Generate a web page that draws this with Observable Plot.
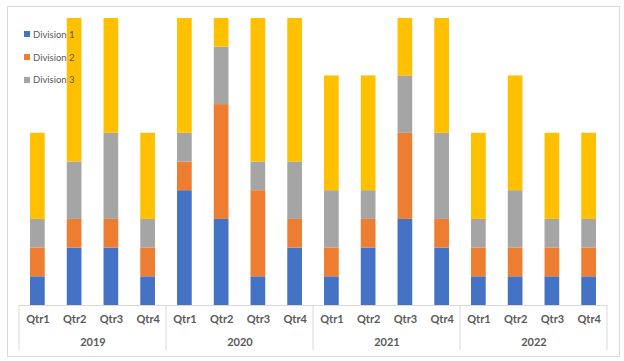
<!DOCTYPE html>
<html>
<head>
<meta charset="utf-8">
<script src="https://cdn.jsdelivr.net/npm/d3@7"></script>
<script src="https://cdn.jsdelivr.net/npm/@observablehq/plot@0.6"></script>
<style>
  html, body { margin: 0; padding: 0; background: #fff; }
  #wrap { position: relative; width: 624px; height: 361px; font-family: Lato, "Open Sans", sans-serif; }
  #border { position: absolute; left: 7px; top: 6px; width: 611px; height: 349px; border: 1px solid #d9d9d9; pointer-events: none; }
  #chart { position: absolute; left: 0; top: 0; }
  #legend { position: absolute; left: 24px; top: 23px; }
  .lg-swatches { font-family: Lato, "Open Sans", sans-serif !important; font-size: 9.5px !important; color: #595959 !important; margin: 0 !important; }
  .lg-swatch { height: 22.7px; margin: 0 !important; padding: 0 !important; display: flex; align-items: center; }
  .lg-swatch svg { margin-right: 3px !important; }
</style>
</head>
<body>
<div id="wrap">
  <div id="chart"></div>
  <div id="legend"></div>
  <div id="border"></div>
</div>
<script>
const years = ["2019", "2020", "2021", "2022"];
const quarters = ["Qtr1", "Qtr2", "Qtr3", "Qtr4"];
const divisions = ["Division 1", "Division 2", "Division 3", "Division 4"];
const colors = ["#4472C4", "#ED7D31", "#A5A5A5", "#FFC000"];
const division1 = [1, 2, 2, 1, 4, 3, 1, 2, 1, 2, 3, 2, 1, 1, 1, 1];
const division2 = [1, 1, 1, 1, 1, 4, 3, 1, 1, 1, 3, 1, 1, 1, 1, 1];
const division3 = [1, 2, 3, 1, 1, 2, 1, 2, 2, 1, 2, 3, 1, 2, 1, 1];
const division4 = [3, 5, 4, 3, 4, 1, 5, 5, 4, 4, 2, 4, 3, 4, 3, 3];
const legendShown = divisions.slice(0, 3);

const series = [division1, division2, division3, division4];
const keys = [];
years.forEach(y => quarters.forEach(q => keys.push(y + "|" + q)));
const rows = [];
keys.forEach((k, i) => series.forEach((s, j) => rows.push({key: k, division: divisions[j], value: s[i]})));

const textColor = "#595959";
const font = "Lato, 'Open Sans', sans-serif";

const chart = Plot.plot({
  width: 624,
  height: 361,
  marginLeft: 19,
  marginRight: 17,
  marginTop: 18,
  marginBottom: 56,
  style: {fontFamily: font, background: "transparent", overflow: "visible"},
  x: {domain: keys, paddingInner: 0.6, paddingOuter: 0.3, round: false, axis: null, label: null},
  y: {domain: [0, 10], axis: null},
  color: {domain: divisions, range: colors},
  marks: [
    Plot.barY(rows, {x: "key", y: "value", fill: "division", order: divisions}),
    Plot.ruleY([0], {stroke: "#d9d9d9", strokeWidth: 1}),
    Plot.axisX({
      tickSize: 0,
      tickPadding: 10,
      tickFormat: d => d.split("|")[1],
      label: null,
      fontSize: 11,
      fontWeight: "bold",
      fill: textColor
    }),
    Plot.text(years, {
      x: d => d + "|Qtr2",
      dx: 18.35,
      frameAnchor: "bottom",
      dy: 40,
      text: d => d,
      fontSize: 11,
      fontWeight: "bold",
      fill: textColor
    })
  ]
});

// group separators in the category axis area, positioned with the plot's x scale
const xs = chart.scale("x");
const step = xs.apply(keys[1]) - xs.apply(keys[0]);
const gap = step - xs.bandwidth;
const bounds = years.map(y => xs.apply(y + "|Qtr1") - gap / 2);
bounds.push(xs.apply(keys[keys.length - 1]) + xs.bandwidth + gap / 2);
const yBase = chart.scale("y").apply(0);
d3.select(chart).append("g")
  .selectAll("line").data(bounds).join("line")
  .attr("x1", d => d).attr("x2", d => d)
  .attr("y1", yBase).attr("y2", yBase + 45)
  .attr("stroke", "#d9d9d9").attr("stroke-width", 1);

document.getElementById("chart").appendChild(chart);

const legend = Plot.legend({
  color: {domain: legendShown, range: colors.slice(0, 3)},
  columns: 1,
  swatchSize: 6,
  className: "lg"
});
document.getElementById("legend").appendChild(legend);
</script>
</body>
</html>
